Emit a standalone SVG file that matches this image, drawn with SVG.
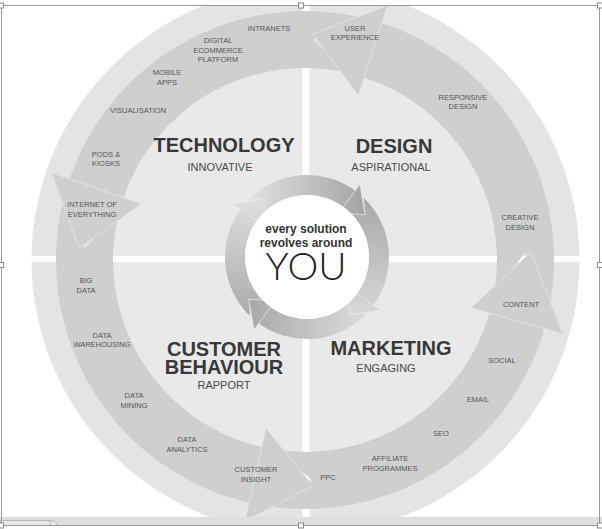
<svg xmlns="http://www.w3.org/2000/svg" width="602" height="529" viewBox="0 0 602 529">
  <defs>
    <style>
      .lbl { font-family: "Liberation Sans", Arial, sans-serif; font-size: 7.5px; fill: #555; text-anchor: middle; }
      .title { font-family: "Liberation Sans", Arial, sans-serif; font-size: 20px; font-weight: bold; fill: #383838; text-anchor: middle; }
      .sub { font-family: "Liberation Sans", Arial, sans-serif; font-size: 11px; fill: #4a4a4a; text-anchor: middle; }
      .center { font-family: "Liberation Sans", Arial, sans-serif; font-size: 12px; font-weight: bold; fill: #333; text-anchor: middle; }
      .you { font-family: "Lato", "Open Sans", sans-serif; font-size: 37px; font-weight: 300; fill: #222; text-anchor: middle; }
      .band { fill: #cfcfcf; }
      .head { fill: #cfcfcf; stroke: #e2e2e2; stroke-width: 1; stroke-linejoin: miter; }
      .handle { fill: #fff; stroke: #8a8a8a; stroke-width: 1; }
    </style>
    <clipPath id="frameClip">
      <rect x="2" y="5.5" width="597" height="511.5"/>
    </clipPath>
    <linearGradient id="gTop" gradientUnits="userSpaceOnUse" x1="250" y1="205" x2="365" y2="205">
      <stop offset="0" stop-color="#e0e0e0"/>
      <stop offset="1" stop-color="#a4a4a4"/>
    </linearGradient>
    <linearGradient id="gRight" gradientUnits="userSpaceOnUse" x1="362" y1="200" x2="355" y2="315">
      <stop offset="0" stop-color="#a8a8a8"/>
      <stop offset="1" stop-color="#d8d8d8"/>
    </linearGradient>
    <linearGradient id="gBottom" gradientUnits="userSpaceOnUse" x1="362" y1="315" x2="250" y2="310">
      <stop offset="0" stop-color="#dadada"/>
      <stop offset="1" stop-color="#a8a8a8"/>
    </linearGradient>
    <linearGradient id="gLeft" gradientUnits="userSpaceOnUse" x1="250" y1="312" x2="255" y2="200">
      <stop offset="0" stop-color="#acacac"/>
      <stop offset="1" stop-color="#dedede"/>
    </linearGradient>
  </defs>

  <rect x="0" y="0" width="602" height="529" fill="#fff"/>

  <g id="diagram" clip-path="url(#frameClip)">
    <g id="background">
      <circle cx="305.5" cy="260" r="274" fill="#e4e4e4"/>
      <circle cx="305.5" cy="260" r="192" fill="#e9e9e9"/>
      <rect x="302.5" y="-20" width="7" height="560" fill="#fff"/>
      <rect x="20" y="256" width="570" height="6" fill="#fff"/>
    </g>

    <g id="connectors">
      <g id="outer-arrow-bands">
        <path class="band" d="M550.22,303.24 A249,249 0 0 0 377.80,21.88 L361.14,76.39 A192,192 0 0 1 494.08,293.34 L525.37,252.30 Z"/>
        <path class="band" d="M365.24,18.40 A249,249 0 0 0 68.19,183.05 L122.40,200.67 A192,192 0 0 1 351.45,73.70 L312.70,39.63 Z"/>
        <path class="band" d="M64.48,195.55 A249,249 0 0 0 253.23,503.56 L265.08,447.80 A192,192 0 0 1 119.54,210.31 L84.80,248.46 Z"/>
        <path class="band" d="M261.76,505.22 A249,249 0 0 0 545.52,324.45 L490.46,309.69 A192,192 0 0 1 271.66,449.08 L312.70,480.37 Z"/>
      </g>
      <g id="outer-arrow-heads">
        <path class="head" d="M387.82,5.12 L312.89,34.14 L358.46,95.47 Z"/>
        <path class="head" d="M51.60,172.75 L79.31,248.17 L141.43,203.68 Z"/>
        <path class="head" d="M244.71,521.13 L312.89,485.86 L266.08,428.57 Z"/>
        <path class="head" d="M562.62,333.87 L530.86,252.11 L471.30,307.69 Z"/>
      </g>
      <g id="center-ring">
        <path fill="url(#gTop)" d="M248.01,200.04 A82,82 0 0 1 356.35,191.51 L344.31,207.48 A62,62 0 0 0 262.40,213.93 L264.68,198.75 Z"/>
        <path fill="url(#gRight)" d="M363.96,198.01 A82,82 0 0 1 372.49,306.35 L356.52,294.31 A62,62 0 0 0 350.07,212.40 L365.25,214.68 Z"/>
        <path fill="url(#gBottom)" d="M365.99,313.96 A82,82 0 0 1 257.65,322.49 L269.69,306.52 A62,62 0 0 0 351.60,300.07 L349.32,315.25 Z"/>
        <path fill="url(#gLeft)" d="M250.04,315.99 A82,82 0 0 1 241.51,207.65 L257.48,219.69 A62,62 0 0 0 263.93,301.60 L248.75,299.32 Z"/>
        <path fill="url(#gTop)" stroke="#e6e6e6" stroke-width="0.8" d="M359.90,184.19 L365.25,214.68 L338.74,213.31 Z"/>
        <path fill="url(#gRight)" stroke="#e6e6e6" stroke-width="0.8" d="M379.81,309.90 L349.32,315.25 L350.69,288.74 Z"/>
        <path fill="url(#gBottom)" stroke="#e6e6e6" stroke-width="0.8" d="M254.10,329.81 L248.75,299.32 L275.26,300.69 Z"/>
        <path fill="url(#gLeft)" stroke="#e6e6e6" stroke-width="0.8" d="M234.19,204.10 L264.68,198.75 L263.31,225.26 Z"/>
      </g>
    </g>

    <g id="center">
      <circle cx="307" cy="257" r="62" fill="#fff"/>
      <text class="center" x="306" y="233">every solution</text>
      <text class="center" x="306" y="247">revolves around</text>
      <text class="you" x="306" y="280" textLength="81" lengthAdjust="spacingAndGlyphs">YOU</text>
    </g>

    <g id="technology">
      <text class="title" x="224" y="152">TECHNOLOGY</text>
      <text class="sub" x="220" y="171">INNOVATIVE</text>
      <text class="lbl" x="269" y="31">INTRANETS</text>
      <text class="lbl" x="218" y="43">DIGITAL</text>
      <text class="lbl" x="218" y="52.5">ECOMMERCE</text>
      <text class="lbl" x="218" y="62">PLATFORM</text>
      <text class="lbl" x="167" y="75">MOBILE</text>
      <text class="lbl" x="167" y="85">APPS</text>
      <text class="lbl" x="138" y="113">VISUALISATION</text>
      <text class="lbl" x="106" y="157">PODS &amp;</text>
      <text class="lbl" x="106" y="166">KIOSKS</text>
      <text class="lbl" x="92" y="207">INTERNET OF</text>
      <text class="lbl" x="92" y="217">EVERYTHING</text>
    </g>

    <g id="design">
      <text class="title" x="394" y="153">DESIGN</text>
      <text class="sub" x="391" y="171">ASPIRATIONAL</text>
      <text class="lbl" x="355" y="31">USER</text>
      <text class="lbl" x="355" y="40">EXPERIENCE</text>
      <text class="lbl" x="463" y="100">RESPONSIVE</text>
      <text class="lbl" x="463" y="109">DESIGN</text>
      <text class="lbl" x="520" y="220">CREATIVE</text>
      <text class="lbl" x="520" y="230">DESIGN</text>
    </g>

    <g id="customer-behaviour">
      <text class="title" x="224" y="356">CUSTOMER</text>
      <text class="title" x="224" y="374">BEHAVIOUR</text>
      <text class="sub" x="224" y="389">RAPPORT</text>
      <text class="lbl" x="86" y="283">BIG</text>
      <text class="lbl" x="86" y="293">DATA</text>
      <text class="lbl" x="102" y="338">DATA</text>
      <text class="lbl" x="102" y="347">WAREHOUSING</text>
      <text class="lbl" x="134" y="398">DATA</text>
      <text class="lbl" x="134" y="408">MINING</text>
      <text class="lbl" x="187" y="442">DATA</text>
      <text class="lbl" x="187" y="452">ANALYTICS</text>
      <text class="lbl" x="256" y="472">CUSTOMER</text>
      <text class="lbl" x="256" y="482">INSIGHT</text>
    </g>

    <g id="marketing">
      <text class="title" x="391" y="355">MARKETING</text>
      <text class="sub" x="386" y="372">ENGAGING</text>
      <text class="lbl" x="521" y="307">CONTENT</text>
      <text class="lbl" x="502" y="363">SOCIAL</text>
      <text class="lbl" x="478" y="402">EMAIL</text>
      <text class="lbl" x="441" y="436">SEO</text>
      <text class="lbl" x="390" y="461">AFFILIATE</text>
      <text class="lbl" x="390" y="471">PROGRAMMES</text>
      <text class="lbl" x="328" y="480">PPC</text>
    </g>
  </g>

  <g id="frame">
    <rect x="0" y="517" width="602" height="8" fill="#dedede"/>
    <path d="M0.5,525 L0.5,520.5 L50,520.5 Q56,520.5 57,525" fill="#e8e8e8" stroke="#b0b0b0" stroke-width="0.8"/>
    <line x1="50" y1="520.5" x2="50" y2="525" stroke="#b0b0b0" stroke-width="0.8"/>
    <line x1="1" y1="5.5" x2="600" y2="5.5" stroke="#9a9a9a" stroke-width="1"/>
    <line x1="1" y1="525.5" x2="600" y2="525.5" stroke="#9a9a9a" stroke-width="1"/>
    <line x1="1.5" y1="5.5" x2="1.5" y2="525.5" stroke="#9a9a9a" stroke-width="1"/>
    <line x1="599.5" y1="5.5" x2="599.5" y2="525.5" stroke="#9a9a9a" stroke-width="1"/>
    <rect class="handle" x="298.5" y="3" width="5" height="5"/>
    <rect class="handle" x="298.5" y="523" width="5" height="5"/>
    <rect class="handle" x="-1.5" y="3" width="5" height="5"/>
    <rect class="handle" x="597.5" y="3" width="5" height="5"/>
    <rect class="handle" x="-1.5" y="523" width="5" height="5"/>
    <rect class="handle" x="597.5" y="523" width="5" height="5"/>
    <rect class="handle" x="-1.5" y="262.5" width="5" height="5"/>
    <rect class="handle" x="597.5" y="262.5" width="5" height="5"/>
  </g>
</svg>
